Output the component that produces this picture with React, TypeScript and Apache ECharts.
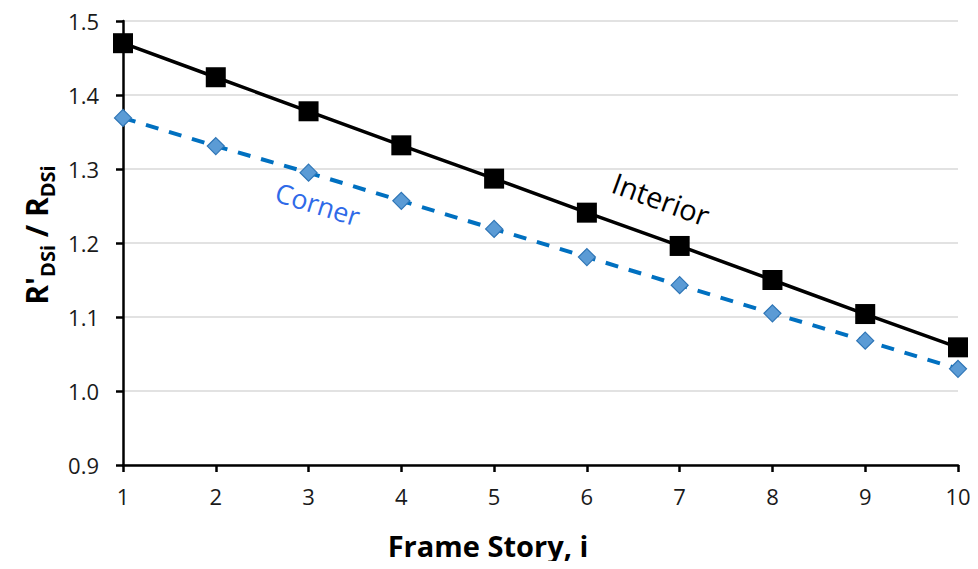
import React, { useEffect, useRef } from "react";
import * as echarts from "echarts";

const stories = [1, 2, 3, 4, 5, 6, 7, 8, 9, 10];
const interior = [1.47, 1.424, 1.378, 1.332, 1.287, 1.241, 1.196, 1.15, 1.104, 1.059];
const corner = [1.369, 1.331, 1.295, 1.257, 1.219, 1.181, 1.143, 1.105, 1.068, 1.03];
const yTicks = [0.9, 1.0, 1.1, 1.2, 1.3, 1.4, 1.5];
const interiorLabel = { text: "Interior", x: 6.8, y: 1.26 };
const cornerLabel = { text: "Corner", x: 3.1, y: 1.253 };

const FONT = "'Open Sans', 'Noto Sans', sans-serif";

export default function App() {
  const ref = useRef<HTMLDivElement>(null);
  useEffect(() => {
    if (!ref.current) return;
    const chart = echarts.init(ref.current, null, { renderer: "svg" });
    chart.setOption({
      animation: false,
      backgroundColor: "#ffffff",
      grid: { left: 123, right: 20, top: 21, bottom: 104, containLabel: false },
      xAxis: {
        type: "value",
        min: 1,
        max: 10,
        interval: 1,
        name: "Frame Story, i",
        nameLocation: "middle",
        nameGap: 66,
        nameTextStyle: { fontFamily: FONT, fontSize: 29, fontWeight: "bold", color: "#000", padding: [0, 105, 0, 0] },
        axisLine: { show: true, lineStyle: { color: "#000", width: 2.5 } },
        axisTick: { show: true, inside: false, length: 7, lineStyle: { color: "#000", width: 2.5 } },
        axisLabel: { fontFamily: FONT, fontSize: 22, color: "#1a1a1a", margin: 20 },
        splitLine: { show: false },
      },
      yAxis: {
        type: "value",
        min: yTicks[0],
        max: yTicks[yTicks.length - 1],
        interval: 0.1,
        name: "{b|R'}{s|DSi}{b| / R}{s|DSi}",
        nameLocation: "middle",
        nameRotate: 90,
        nameGap: 66,
        nameTextStyle: {
          fontFamily: FONT,
          color: "#000",
          padding: [0, 0, 0, 16],
          rich: {
            b: { fontFamily: FONT, fontSize: 30, fontWeight: "bold", color: "#000", verticalAlign: "bottom" },
            s: { fontFamily: FONT, fontSize: 20, fontWeight: "bold", color: "#000", verticalAlign: "bottom", padding: [0, 0, -6, 0] },
          },
        },
        axisLine: { show: true, lineStyle: { color: "#000", width: 2.5 } },
        axisTick: { show: true, inside: false, length: 7, lineStyle: { color: "#000", width: 2.5 } },
        axisLabel: {
          fontFamily: FONT,
          fontSize: 22,
          color: "#1a1a1a",
          margin: 24,
          formatter: (v: number) => v.toFixed(1),
        },
        splitLine: { show: true, lineStyle: { color: "#d9d9d9", width: 1.5 } },
      },
      series: [
        {
          name: "Corner",
          type: "line",
          data: stories.map((s, i) => [s, corner[i]]),
          symbol: "diamond",
          symbolSize: 17,
          itemStyle: { color: "#5b9bd5", borderColor: "#2e75b6", borderWidth: 1.2 },
          lineStyle: { color: "#0070c0", width: 4, type: [13, 11] },
          z: 2,
        },
        {
          name: "Interior",
          type: "line",
          data: stories.map((s, i) => [s, interior[i]]),
          symbol: "rect",
          symbolSize: 20,
          itemStyle: { color: "#000000" },
          lineStyle: { color: "#000000", width: 3.5 },
          z: 3,
        },
      ],
    });
    const pI = chart.convertToPixel({ gridIndex: 0 }, [interiorLabel.x, interiorLabel.y]);
    const pC = chart.convertToPixel({ gridIndex: 0 }, [cornerLabel.x, cornerLabel.y]);
    chart.setOption({
      graphic: [
        {
          type: "text",
          x: pI[0],
          y: pI[1],
          rotation: -0.35,
          style: {
            text: interiorLabel.text,
            fontFamily: FONT,
            fontSize: 29,
            fill: "#000",
            align: "center",
            verticalAlign: "middle",
          },
        },
        {
          type: "text",
          x: pC[0],
          y: pC[1],
          rotation: -0.3,
          style: {
            text: cornerLabel.text,
            fontFamily: FONT,
            fontSize: 27,
            fill: "#2f6ae8",
            align: "center",
            verticalAlign: "middle",
          },
        },
      ],
    });
    return () => chart.dispose();
  }, []);
  return <div ref={ref} style={{ width: 978, height: 569, margin: -8 }} />;
}
